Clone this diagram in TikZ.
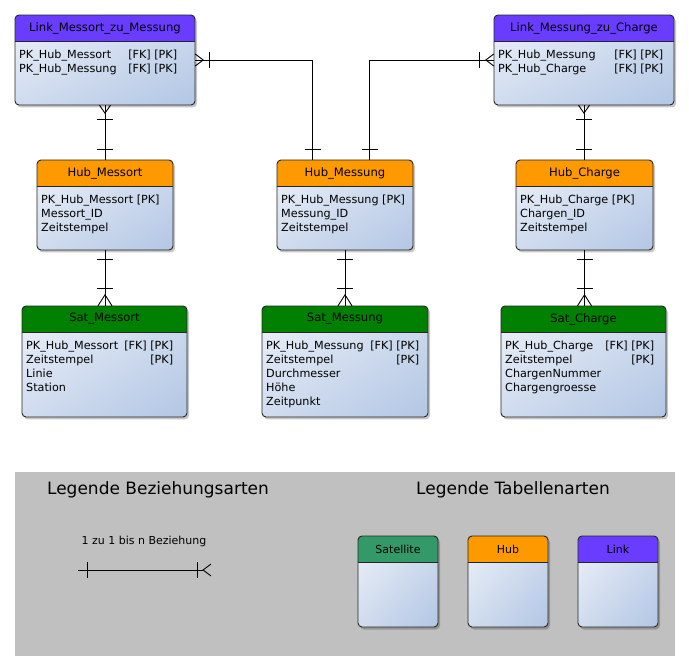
\documentclass[tikz,border=0pt]{standalone}
\usepackage{fontspec}
\setmainfont{DejaVu Sans}
\usetikzlibrary{calc,shadings}
\definecolor{linkc}{RGB}{105,60,255}
\definecolor{hubc}{RGB}{255,153,0}
\definecolor{satc}{RGB}{0,128,0}
\definecolor{satlc}{RGB}{51,153,102}
\definecolor{bodyA}{RGB}{238,242,249}
\definecolor{bodyB}{RGB}{178,198,228}
\colorlet{bodyM}{bodyA!50!bodyB}
\definecolor{legbg}{RGB}{192,192,192}

\newcommand\frow[3]{\hbox to #1pt{#2\hfil #3}}

\tikzset{
  boxline/.style={draw=black!85,line width=0.9pt},
  conn/.style={draw=black,line width=0.9pt},
  titletext/.style={inner sep=0,font=\fontsize{11.6}{14}\selectfont},
  bodytext/.style={inner sep=0,anchor=north west,font=\fontsize{11.2}{14}\selectfont},
  legtitle/.style={inner sep=0,font=\fontsize{17}{20}\selectfont},
  legtext/.style={inner sep=0,font=\fontsize{11}{13}\selectfont},
}

\newcommand\ertable[7]{%
  \fill[black,opacity=0.22,rounded corners=4pt] (#2+2,#3+2.5) rectangle ++(#4,#5);
  \shade[rounded corners=4pt,upper left=bodyA,lower right=bodyB,upper right=bodyM,lower left=bodyM] (#2,#3) rectangle ++(#4,#5);
  \begin{scope}
    \clip[rounded corners=4pt] (#2,#3) rectangle ++(#4,#5);
    \fill[#6] (#2,#3) rectangle ++(#4,26);
  \end{scope}
  \draw[boxline] (#2,#3+26) -- ++(#4,0);
  \draw[boxline,rounded corners=4pt] (#2,#3) rectangle ++(#4,#5);
  \node[inner sep=0,minimum width=#4pt,minimum height=#5pt] (#1) at (#2+#4/2,#3+#5/2) {};
  \node[titletext] (#1-title) at (#2+#4/2,#3+13) {#7};
}
\newcommand\erbody[4]{%
  \node[bodytext] (#1-body) at (#2+4,#3+33.7) {\begin{tabular}{@{}l@{}}#4\end{tabular}};
}

\begin{document}
\begin{tikzpicture}[x=1pt,y=-1pt]
\useasboundingbox (0,0) rectangle (689,671);
\fill[white] (0,0) rectangle (689,671);

% legend background
\fill[legbg] (15,472) rectangle (675,656);

% tables
\ertable{LMM}{15}{15}{180}{90}{linkc}{Link\_Messort\_zu\_Messung}
\erbody{LMM}{15}{15}{\frow{158}{PK\_Hub\_Messort}{[FK] [PK]}\\\frow{158}{PK\_Hub\_Messung}{[FK] [PK]}}
\ertable{LMC}{494}{15}{180}{90}{linkc}{Link\_Messung\_zu\_Charge}
\erbody{LMC}{494}{15}{\frow{165}{PK\_Hub\_Messung}{[FK] [PK]}\\\frow{165}{PK\_Hub\_Charge}{[FK] [PK]}}
\ertable{HMo}{37}{160}{136}{90}{hubc}{Hub\_Messort}
\erbody{HMo}{37}{160}{PK\_Hub\_Messort [PK]\\Messort\_ID\\Zeitstempel}
\ertable{HMe}{277}{160}{136}{90}{hubc}{Hub\_Messung}
\erbody{HMe}{277}{160}{PK\_Hub\_Messung [PK]\\Messung\_ID\\Zeitstempel}
\ertable{HC}{516}{160}{137}{90}{hubc}{Hub\_Charge}
\erbody{HC}{516}{160}{PK\_Hub\_Charge [PK]\\Chargen\_ID\\Zeitstempel}
\ertable{SMo}{22}{306}{165}{111}{satc}{Sat\_Messort}
\erbody{SMo}{22}{306}{\frow{147}{PK\_Hub\_Messort}{[FK] [PK]}\\\frow{147}{Zeitstempel}{[PK]}\\Linie\\Station}
\ertable{SMe}{262}{306}{166}{111}{satc}{Sat\_Messung}
\erbody{SMe}{262}{306}{\frow{153}{PK\_Hub\_Messung}{[FK] [PK]}\\\frow{153}{Zeitstempel}{[PK]}\\Durchmesser\\Höhe\\Zeitpunkt}
\ertable{SC}{501}{306}{165}{111}{satc}{Sat\_Charge}
\erbody{SC}{501}{306}{\frow{149}{PK\_Hub\_Charge}{[FK] [PK]}\\\frow{149}{Zeitstempel}{[PK]}\\ChargenNummer\\Chargengroesse}

% legend tables
\ertable{LgS}{358}{536}{80}{91}{satlc}{{\fontsize{11}{13}\selectfont Satellite}}
\ertable{LgH}{468}{536}{80}{91}{hubc}{{\fontsize{11}{13}\selectfont Hub}}
\ertable{LgL}{578}{536}{80}{91}{linkc}{{\fontsize{11}{13}\selectfont Link}}

% connectors: Link_Messort_zu_Messung -> Hub_Messort
\draw[conn] (LMM.south) -- (LMM.south |- HMo.north);
\draw[conn] ($(LMM.south)+(-5.5,0)$) -- ($(LMM.south)+(0,8)$) -- ($(LMM.south)+(5.5,0)$);
\draw[conn] ($(LMM.south)+(-8,14)$) -- ++(16,0);
\draw[conn] ($(LMM.south |- HMo.north)+(-8,-10)$) -- ++(16,0);

% Link_Messort_zu_Messung -> Hub_Messung
\draw[conn] (LMM.east) -| ($(HMe.north)+(-32.5,0)$);
\draw[conn] ($(LMM.east)+(0,-6)$) -- ($(LMM.east)+(8,0)$) -- ($(LMM.east)+(0,6)$);
\draw[conn] ($(LMM.east)+(14,-8)$) -- ++(0,16);
\draw[conn] ($(HMe.north)+(-40.5,-10)$) -- ++(16,0);

% Link_Messung_zu_Charge -> Hub_Messung
\draw[conn] (LMC.west) -| ($(HMe.north)+(24.5,0)$);
\draw[conn] ($(LMC.west)+(0,-6)$) -- ($(LMC.west)+(-8,0)$) -- ($(LMC.west)+(0,6)$);
\draw[conn] ($(LMC.west)+(-14,-8)$) -- ++(0,16);
\draw[conn] ($(HMe.north)+(16.5,-10)$) -- ++(16,0);

% Link_Messung_zu_Charge -> Hub_Charge
\draw[conn] (LMC.south) -- (LMC.south |- HC.north);
\draw[conn] ($(LMC.south)+(-5.5,0)$) -- ($(LMC.south)+(0,8)$) -- ($(LMC.south)+(5.5,0)$);
\draw[conn] ($(LMC.south)+(-8,14)$) -- ++(16,0);
\draw[conn] ($(LMC.south |- HC.north)+(-8,-10)$) -- ++(16,0);

% Hubs -> Satellites
\foreach \h/\s in {HMo/SMo,HMe/SMe,HC/SC}{
  \draw[conn] (\h.south) -- (\h.south |- \s.north);
  \draw[conn] ($(\h.south)+(-8,9)$) -- ++(16,0);
  \draw[conn] ($(\h.south |- \s.north)+(-8,-17)$) -- ++(16,0);
  \draw[conn] ($(\h.south |- \s.north)+(-7,0)$) -- ($(\h.south |- \s.north)+(0,-11)$) -- ($(\h.south |- \s.north)+(7,0)$);
}

% legend texts
\node[legtitle] (lt1) at (158,490) {Legende Beziehungsarten};
\node[legtitle] (lt2) at (513,490) {Legende Tabellenarten};
\node[legtext] (lt3) at (144,541) {1 zu 1 bis n Beziehung};

% legend relationship line
\coordinate (lgA) at (78,570);
\coordinate (lgB) at (203,570);
\draw[conn] (lgA) -- (lgB);
\draw[conn] ($(lgA)+(9,-8)$) -- ++(0,16);
\draw[conn] ($(lgB)+(-6,-8)$) -- ++(0,16);
\draw[conn] ($(lgB)+(8,-6)$) -- (lgB) -- ($(lgB)+(8,6)$);
\end{tikzpicture}
\end{document}
